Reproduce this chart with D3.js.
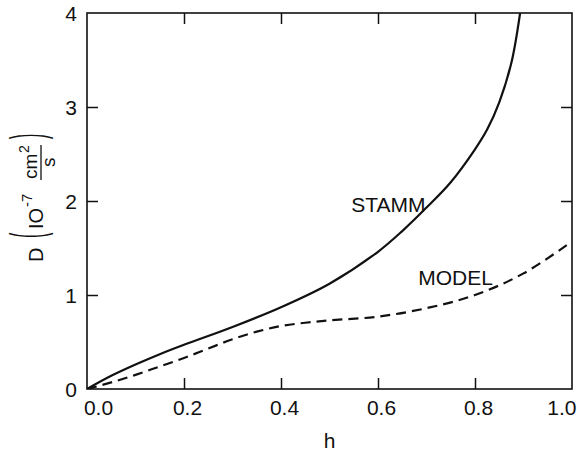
<!DOCTYPE html>
<html>
<head>
<meta charset="utf-8">
<script src="https://cdn.jsdelivr.net/npm/d3@7"></script>
<style>
  html, body { margin: 0; padding: 0; background: #fff; }
  svg { display: block; }
  text { font-family: "Liberation Sans", Arial, sans-serif; fill: #111; }
</style>
</head>
<body>
<svg id="chart" width="577" height="459"></svg>
<script>
// ---- data ----
const stammH = [0, 0.05, 0.1, 0.15, 0.2, 0.3, 0.4, 0.5, 0.6, 0.65, 0.7, 0.75, 0.8, 0.825, 0.85, 0.875, 0.893];
const stammD = [0, 0.14, 0.26, 0.37, 0.47, 0.66, 0.87, 1.12, 1.46, 1.68, 1.93, 2.2, 2.55, 2.76, 3.05, 3.47, 4.0];
const modelH = [0, 0.05, 0.1, 0.15, 0.2, 0.25, 0.3, 0.35, 0.4, 0.45, 0.5, 0.6, 0.7, 0.8, 0.9, 1.0];
const modelD = [0, 0.07, 0.15, 0.24, 0.33, 0.43, 0.53, 0.61, 0.67, 0.705, 0.73, 0.77, 0.86, 1.0, 1.23, 1.57];
const xTicks = [0, 0.2, 0.4, 0.6, 0.8, 1.0];
const yTicks = [0, 1, 2, 3, 4];
const seriesNames = ["STAMM", "MODEL"];

const W = 577, H = 459;
const m = { left: 87, right: 5, top: 13, bottom: 70 };
const svg = d3.select("#chart");
const x = d3.scaleLinear().domain([0, 1]).range([m.left, W - m.right]);
const y = d3.scaleLinear().domain([0, 4]).range([H - m.bottom, m.top]);

const ink = "#111";
const tickLen = 11;
const fontFam = '"Liberation Sans", Arial, sans-serif';

svg.append("defs").append("clipPath").attr("id", "plotclip")
  .append("rect").attr("x", x(0)).attr("y", y(4)).attr("width", x(1) - x(0)).attr("height", y(0) - y(4));

// Frame
svg.append("rect")
  .attr("x", x(0)).attr("y", y(4))
  .attr("width", x(1) - x(0)).attr("height", y(0) - y(4))
  .attr("fill", "none").attr("stroke", ink).attr("stroke-width", 1.6);

// Axes with inward ticks
const inner = xTicks.slice(1, -1);
const innerY = yTicks.slice(1, -1);
const bottomAx = svg.append("g").attr("transform", `translate(0,${y(0)})`)
  .call(d3.axisBottom(x).tickValues(xTicks).tickSize(-tickLen).tickPadding(22).tickFormat(d3.format(".1f")));
const topAx = svg.append("g").attr("transform", `translate(0,${y(4)})`)
  .call(d3.axisTop(x).tickValues(inner).tickSize(-tickLen).tickFormat(""));
const leftAx = svg.append("g").attr("transform", `translate(${x(0)},0)`)
  .call(d3.axisLeft(y).tickValues(yTicks).tickSize(-tickLen).tickPadding(10).tickFormat(d3.format("d")));
const rightAx = svg.append("g").attr("transform", `translate(${x(1)},0)`)
  .call(d3.axisRight(y).tickValues(innerY).tickSize(-tickLen).tickFormat(""));

[bottomAx, topAx, leftAx, rightAx].forEach(g => {
  g.select(".domain").remove();
  g.selectAll("line").attr("stroke", ink).attr("stroke-width", 1.5);
  g.selectAll("text").style("font-family", fontFam).style("font-size", "21px").attr("fill", ink);
});
bottomAx.selectAll(".tick").filter(d => d === 0 || d === 1).select("line").remove();
leftAx.selectAll(".tick").filter(d => d === 0 || d === 4).select("line").remove();
bottomAx.selectAll("text").attr("dx", d => d === 0 ? 11 : 3).attr("dy", "0.2em");
// last label sits against the right edge
bottomAx.selectAll(".tick").filter(d => d === 1).select("text")
  .attr("text-anchor", "end").attr("x", (W - 1) - x(1)).attr("dx", 0);
leftAx.selectAll("text").attr("dx", 0).attr("dy", "0.36em");

// Curves
const line = d3.line().x(d => x(d[0])).y(d => y(d[1])).curve(d3.curveCatmullRom.alpha(0.5));
const stamm = stammH.map((h, i) => [h, stammD[i]]);
const model = modelH.map((h, i) => [h, modelD[i]]);
const plot = svg.append("g").attr("clip-path", "url(#plotclip)");
plot.append("path").datum(stamm).attr("d", line)
  .attr("fill", "none").attr("stroke", ink).attr("stroke-width", 2.2);
plot.append("path").datum(model).attr("d", line)
  .attr("fill", "none").attr("stroke", ink).attr("stroke-width", 2.2)
  .attr("stroke-dasharray", "10,6");

// Curve labels
svg.append("text").attr("x", x(0.545)).attr("y", y(1.88)).text(seriesNames[0])
  .style("font-size", "21px");
svg.append("text").attr("x", x(0.683)).attr("y", y(1.11)).text(seriesNames[1])
  .style("font-size", "21px");

// X axis title
svg.append("text").attr("x", (x(0) + x(1)) / 2).attr("y", 448)
  .attr("text-anchor", "middle").style("font-size", "21px").text("h");

// Y axis title: D (10^-7 cm^2 / s)
const yt = svg.append("g").attr("transform", "translate(43,193) rotate(-90)");
yt.append("text").attr("x", -69).attr("y", 0).style("font-size", "20px").text("D");
yt.append("text").attr("transform", "translate(-45,0) scale(1,2.9)").attr("y", 0)
  .style("font-size", "16px").text("(");
yt.append("text").attr("x", -36).attr("y", 0).style("font-size", "20px").text("IO");
yt.append("text").attr("x", -14).attr("y", -11).style("font-size", "15px").text("-7");
yt.append("text").attr("x", 14).attr("y", -6).style("font-size", "19px").text("cm");
yt.append("text").attr("x", 40).attr("y", -14).style("font-size", "14px").text("2");
yt.append("line").attr("x1", 13).attr("x2", 48).attr("y1", -2).attr("y2", -2)
  .attr("stroke", ink).attr("stroke-width", 1.3);
yt.append("text").attr("x", 26).attr("y", 12).style("font-size", "19px").text("s");
yt.append("text").attr("transform", "translate(54,0) scale(1,2.9)").attr("y", 0)
  .style("font-size", "16px").text(")");
</script>
</body>
</html>
